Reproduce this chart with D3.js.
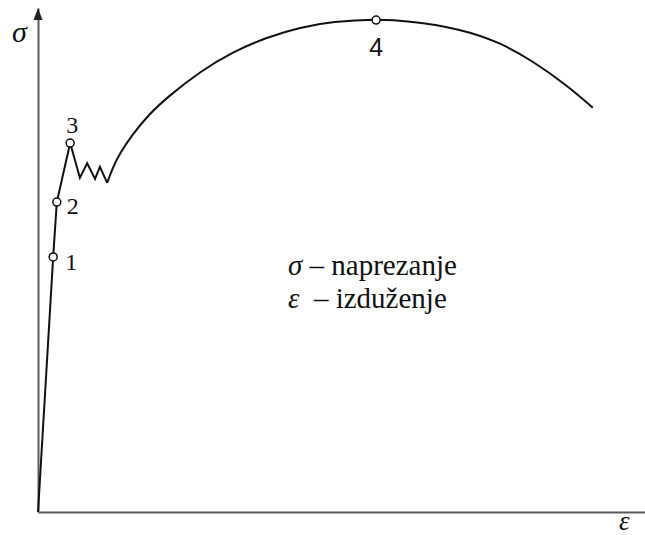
<!DOCTYPE html>
<html>
<head>
<meta charset="utf-8">
<script src="https://cdn.jsdelivr.net/npm/d3@7"></script>
<style>
  body { margin: 0; background: #fff; }
  svg { display: block; }
</style>
</head>
<body>
<svg width="645" height="535"></svg>
<script>
// точки диаграммы (условные единицы 0..100 по обеим осям)
const elasticPts = [[0, 0], [2.5, 50.6], [3.1, 61.5], [5.3, 73.2]];
const zigzagPts = [[5.3, 73.2], [6.9, 66.3], [8.1, 69.2], [9.4, 66.1], [10.2, 68.5], [11.4, 65.3]];
const hardeningPts = [[11.4, 65.3], [12.3, 68.3], [13.5, 71.2], [15.5, 74.8], [18.2, 78.8], [21.3, 82.3],
                      [26.7, 87.4], [32.1, 91.3], [37.7, 94.2], [43.2, 96.2], [48.6, 97.3],
                      [55.7, 97.8], [61.3, 97.4], [69.5, 95.9], [76.1, 93.2], [81.6, 89.4],
                      [87.2, 84.6], [91.4, 80.2]];
const markedPts = [[2.5, 50.6], [3.1, 61.5], [5.3, 73.2], [55.7, 97.6]];
const markLabels = ["1", "2", "3", "4"];
const legendLines = [["σ", " – naprezanje"], ["ε", "  – izduženje"]];

const svg = d3.select("svg");

const area = { left: 38, right: 645, top: 8, bottom: 512 };

const scX = d3.scaleLinear().domain([0, 100]).range([area.left, area.right]);
const scY = d3.scaleLinear().domain([0, 100]).range([area.bottom, area.top]);

// оси без делений
const axisCol = "#5a5a5a";
svg.append("g")
   .attr("transform", `translate(0, ${area.bottom})`)
   .call(d3.axisBottom(scX).tickValues([]).tickSizeOuter(0))
   .select(".domain").attr("stroke", axisCol).attr("stroke-width", 2);

svg.append("g")
   .attr("transform", `translate(${area.left}, 0)`)
   .call(d3.axisLeft(scY).tickValues([]).tickSizeOuter(0))
   .select(".domain").attr("stroke", axisCol).attr("stroke-width", 2);

// стрелка на оси σ
svg.append("path")
   .attr("d", `M${area.left},${area.top} L${area.left - 4.5},${area.top + 12} L${area.left + 4.5},${area.top + 12} Z`)
   .attr("fill", "#222");

// кривая
const line = d3.line().x(d => scX(d[0])).y(d => scY(d[1]));
const smooth = d3.line().x(d => scX(d[0])).y(d => scY(d[1])).curve(d3.curveBasis);

svg.append("path").attr("d", line(elasticPts.concat(zigzagPts.slice(1))))
   .attr("fill", "none").attr("stroke", "#111").attr("stroke-width", 2)
   .attr("stroke-linejoin", "miter");
svg.append("path").attr("d", smooth(hardeningPts))
   .attr("fill", "none").attr("stroke", "#111").attr("stroke-width", 2);

// характерные точки
svg.selectAll("circle.mark").data(markedPts).enter()
   .append("circle")
   .attr("cx", d => scX(d[0]))
   .attr("cy", d => scY(d[1]))
   .attr("r", 4)
   .attr("fill", "#fff")
   .attr("stroke", "#111")
   .attr("stroke-width", 1.5);

// подписи точек
const labelOffsets = [[12, 13, "start"], [10, 12, "start"], [2, -10, "middle"], [0, 36, "middle"]];
markedPts.forEach((d, i) => {
  const [dx, dy, anchor] = labelOffsets[i];
  svg.append("text")
     .attr("x", scX(d[0]) + dx)
     .attr("y", scY(d[1]) + dy)
     .attr("text-anchor", anchor)
     .style("font-family", i === 3 ? "Liberation Sans, Arial, sans-serif" : "Liberation Serif, Times New Roman, serif")
     .style("font-size", i === 3 ? "25px" : "24px")
     .attr("fill", "#111")
     .text(markLabels[i]);
});

// подписи осей
svg.append("text")
   .attr("x", 12).attr("y", 42)
   .style("font-family", "Liberation Serif, Times New Roman, serif")
   .style("font-style", "italic")
   .style("font-size", "30px")
   .attr("fill", "#111")
   .text("σ");

svg.append("text")
   .attr("x", 619).attr("y", 530)
   .style("font-family", "Liberation Serif, Times New Roman, serif")
   .style("font-style", "italic")
   .style("font-size", "27px")
   .attr("fill", "#111")
   .text("ε");

// легенда
legendLines.forEach((l, i) => {
  const t = svg.append("text")
     .attr("x", 288).attr("y", 275 + i * 33)
     .style("font-family", "Liberation Serif, Times New Roman, serif")
     .style("font-size", "29px")
     .attr("fill", "#111")
     .attr("xml:space", "preserve")
     .style("white-space", "pre");
  t.append("tspan").style("font-style", "italic").text(l[0]);
  t.append("tspan").text(l[1]);
});
</script>
</body>
</html>
